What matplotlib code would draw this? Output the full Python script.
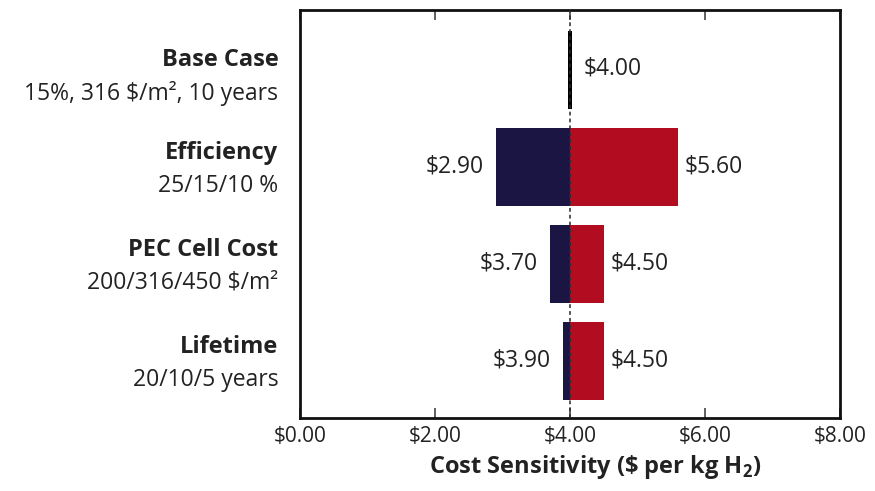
import matplotlib
matplotlib.use("Agg")
import matplotlib.pyplot as plt

plt.rcParams['font.family'] = ['Open Sans', 'DejaVu Sans']
plt.rcParams['mathtext.fontset'] = 'custom'
plt.rcParams['mathtext.rm'] = 'Open Sans'
plt.rcParams['mathtext.bf'] = 'Open Sans:bold'

categories = ["Base Case", "Efficiency", "PEC Cell Cost", "Lifetime"]
subtitles = ["15%, 316 \\$/m², 10 years", "25/15/10 %", "200/316/450 \\$/m²", "20/10/5 years"]
base_value = 4.00
low_values = [4.00, 2.90, 3.70, 3.90]
high_values = [4.00, 5.60, 4.50, 4.50]
xticks = [0, 2, 4, 6, 8]
xtick_labels = ["\\$0.00", "\\$2.00", "\\$4.00", "\\$6.00", "\\$8.00"]

navy = "#1b1543"
red = "#b10c1f"
txt = "#222222"

fig = plt.figure(figsize=(8.75, 4.91), dpi=100)
ax = fig.add_axes([300/875, 1 - 418/491, 540/875, 408/491])

h = 0.8
for i, (lo, hi) in enumerate(zip(low_values, high_values)):
    if i == 0:
        ax.barh(i, 0.06, left=base_value - 0.03, height=h, color="black", zorder=3)
        ax.text(base_value + 0.2, i - 0.02, f"\\${base_value:.2f}", ha="left", va="center", fontsize=16.5, color=txt)
        continue
    ax.barh(i, lo - base_value, left=base_value, height=h, color=navy, zorder=2)
    ax.barh(i, hi - base_value, left=base_value, height=h, color=red, zorder=2)
    ax.text(lo - 0.18, i, f"\\${lo:.2f}", ha="right", va="center", fontsize=16.5, color=txt)
    ax.text(hi + 0.1, i, f"\\${hi:.2f}", ha="left", va="center", fontsize=16.5, color=txt)

ax.axvline(base_value, color="#2a2a2a", linestyle=(0, (2.5, 2)), linewidth=1.1, zorder=4)

ax.set_xlim(0, 8)
ax.set_ylim(3.59, -0.62)
ax.set_xticks(xticks)
ax.set_xticklabels(xtick_labels, fontsize=15, color=txt)
ax.set_yticks([])
ax.tick_params(axis="x", direction="in", top=True, length=7, width=1.2, color="#444444", pad=6)
for s in ax.spines.values():
    s.set_linewidth(2.0)
    s.set_color("#111111")

ax.set_xlabel("Cost Sensitivity (\\$ per kg H$_\\mathbf{2}$)", fontsize=17, fontweight="bold", color=txt, labelpad=4)
ax.xaxis.label.set_x((595 - 300) / 540)

trans = ax.get_yaxis_transform()
for i, (c, s) in enumerate(zip(categories, subtitles)):
    yoff = 0.07 if i == 0 else 0.025
    ax.text(-0.04, i - 0.17 + yoff, c, transform=trans, ha="right", va="center", fontsize=17, fontweight="bold", color=txt)
    ax.text(-0.04, i + 0.17 + yoff, s, transform=trans, ha="right", va="center", fontsize=16.5, color=txt)

fig.savefig("out.png", dpi=100)
